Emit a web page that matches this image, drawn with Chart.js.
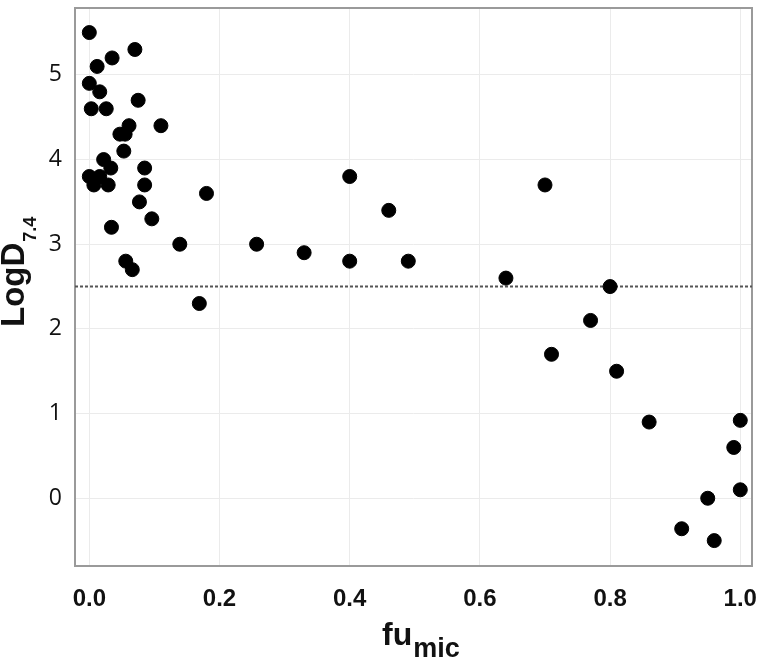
<!DOCTYPE html>
<html>
<head>
<meta charset="utf-8">
<script src="https://cdn.jsdelivr.net/npm/chart.js@4.4.1/dist/chart.umd.min.js"></script>
<style>
    html, body { margin: 0; padding: 0; background: #fff; }
    #wrap { width: 766px; height: 662px; }
</style>
</head>
<body>
<div id="wrap"><canvas id="grafico"></canvas></div>
<script>
// DATOS
const fumic = [0.00, 0.07, 0.035, 0.012, 0.00, 0.016, 0.075, 0.003, 0.026, 0.11,
    0.061, 0.047, 0.055, 0.053, 0.022, 0.033, 0.085, 0.00, 0.016, 0.007,
    0.029, 0.085, 0.18, 0.077, 0.096, 0.034, 0.139, 0.257, 0.056, 0.066,
    0.169, 0.33, 0.40, 0.40, 0.46, 0.49, 0.64, 0.70, 0.80, 0.77,
    0.71, 0.81, 0.86, 1.00, 0.99, 1.00, 0.95, 0.91, 0.96];
const logD = [5.5, 5.3, 5.2, 5.1, 4.9, 4.8, 4.7, 4.6, 4.6, 4.4,
    4.4, 4.3, 4.3, 4.1, 4.0, 3.9, 3.9, 3.8, 3.8, 3.7,
    3.7, 3.7, 3.6, 3.5, 3.3, 3.2, 3.0, 3.0, 2.8, 2.7,
    2.3, 2.9, 3.8, 2.8, 3.4, 2.8, 2.6, 3.7, 2.5, 2.1,
    1.7, 1.5, 0.9, 0.92, 0.6, 0.1, 0.0, -0.36, -0.5];
const xTicks = [0.0, 0.2, 0.4, 0.6, 0.8, 1.0];
const yTicks = [0, 1, 2, 3, 4, 5];
const umbral = 2.5;

// sin relleno extra por las etiquetas de los extremos
function sinPadding(s) {
    s.paddingTop = 0;
    s.paddingBottom = 0;
    s.paddingLeft = 0;
    s.paddingRight = 0;
}

// PLUGIN: marco, linea de umbral y titulos con subindice
const extras = {
    id: 'extras',
    beforeDatasetsDraw(chart) {
        const { ctx, chartArea: a, scales } = chart;
        ctx.save();
        ctx.strokeStyle = '#9a9a9a';
        ctx.lineWidth = 2;
        ctx.strokeRect(a.left, a.top, a.right - a.left, a.bottom - a.top);
        const y = scales.y.getPixelForValue(umbral);
        ctx.strokeStyle = '#555';
        ctx.lineWidth = 2;
        ctx.setLineDash([3, 2]);
        ctx.beginPath();
        ctx.moveTo(a.left, y);
        ctx.lineTo(a.right, y);
        ctx.stroke();
        ctx.restore();
    },
    afterDraw(chart) {
        const ctx = chart.ctx;
        ctx.save();
        ctx.fillStyle = '#111';
        ctx.textBaseline = 'alphabetic';
        ctx.textAlign = 'left';

        // eje Y
        ctx.translate(24, 327);
        ctx.rotate(-Math.PI / 2);
        ctx.font = 'bold 33px "Liberation Sans", Arial, sans-serif';
        ctx.fillText('LogD', 0, 0);
        let w = ctx.measureText('LogD').width;
        ctx.font = 'bold 18px "Liberation Sans", Arial, sans-serif';
        ctx.fillText('7.4', w + 1, 12);
        ctx.restore();

        // eje X
        ctx.save();
        ctx.fillStyle = '#111';
        ctx.font = 'bold 32px "Liberation Sans", Arial, sans-serif';
        ctx.fillText('fu', 382, 645);
        w = ctx.measureText('fu').width;
        ctx.font = 'bold 27px "Liberation Sans", Arial, sans-serif';
        ctx.fillText('mic', 382 + w + 1, 657);
        ctx.restore();
    }
};

const puntos = fumic.map((v, i) => ({ x: v, y: logD[i] }));

new Chart(document.getElementById('grafico'), {
    type: 'scatter',
    data: {
        datasets: [
            {
                label: 'compuestos',
                data: puntos,
                backgroundColor: '#000',
                borderColor: '#000',
                pointRadius: 7,
                pointHoverRadius: 7,
            },
        ],
    },
    options: {
        responsive: true,
        maintainAspectRatio: false,
        animation: false,
        events: [],
        layout: { padding: { top: 2, right: 14, left: 0, bottom: 0 } },
        plugins: {
            legend: { display: false },
            tooltip: { enabled: false },
        },
        scales: {
            x: {
                type: 'linear',
                min: -0.022,
                max: 1.018,
                afterBuildTicks: (s) => { s.ticks = xTicks.map(v => ({ value: v })); },
                afterFit: (s) => { s.height = 96; sinPadding(s); },
                border: { display: false },
                grid: { color: '#ebebeb', lineWidth: 1, drawTicks: false },
                ticks: {
                    padding: 19,
                    color: '#111',
                    font: { family: '"Liberation Sans", Arial, sans-serif', weight: 'bold', size: 24 },
                    callback: (v) => Number(v).toFixed(1),
                },
            },
            y: {
                type: 'linear',
                min: -0.8,
                max: 5.79,
                afterBuildTicks: (s) => { s.ticks = yTicks.map(v => ({ value: v })); },
                afterFit: (s) => { s.width = 75; sinPadding(s); },
                border: { display: false },
                grid: { color: '#ebebeb', lineWidth: 1, drawTicks: false },
                ticks: {
                    padding: 13,
                    color: '#111',
                    font: { family: '"Open Sans", sans-serif', size: 23 },
                    callback: (v) => String(v),
                },
            },
        },
    },
    plugins: [extras],
});
</script>
</body>
</html>
